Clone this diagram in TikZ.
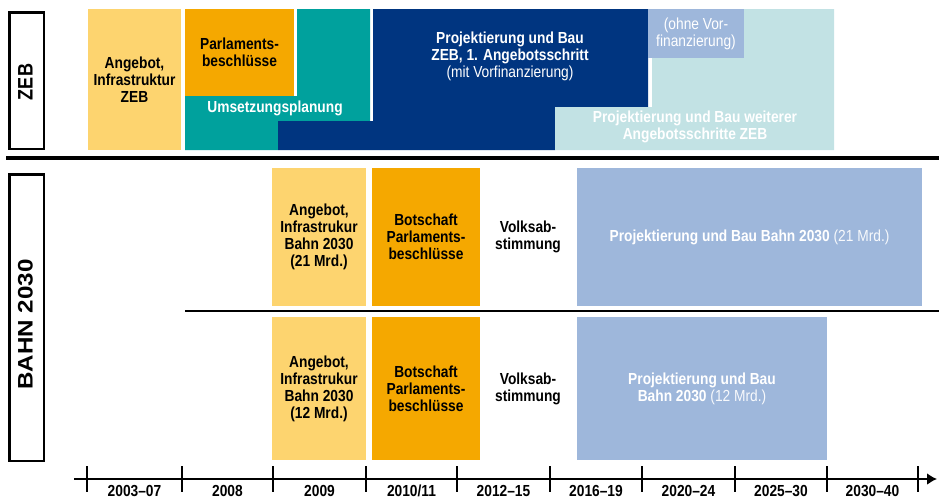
\documentclass[tikz,border=0pt]{standalone}
\usepackage{fontspec}
\setmainfont{Liberation Sans}[FakeStretch=0.86]
\newfontfamily\widefont{Liberation Sans}[FakeStretch=1.15]
\usepackage{tikz}
\usetikzlibrary{positioning, calc, arrows.meta}

\definecolor{AngebotYellow}{RGB}{253,212,111}
\definecolor{ParlOrange}{RGB}{245,168,0}
\definecolor{PlanTeal}{RGB}{0,161,157}
\definecolor{BauBlue}{RGB}{0,53,128}
\definecolor{ProjBlue}{RGB}{158,183,219}
\definecolor{LaterCyan}{RGB}{194,226,228}

\newcommand{\boxfont}{\fontsize{16}{17}\selectfont}
\newcommand{\rowfont}{\fontsize{21}{21}\selectfont}

\begin{document}
\begin{tikzpicture}[
    x=1pt, y=-1pt,
    >={Latex[length=10pt, width=12pt]},
    blk/.style={anchor=north west, inner sep=0pt, outer sep=0pt, align=center, font=\boxfont\bfseries},
    txt/.style={inner sep=0pt, align=center, font=\boxfont\bfseries},
    rowbox/.style={draw, line width=2.5pt, fill=white, inner sep=0pt, anchor=north west},
    rowlabel/.style={rotate=90, inner sep=0pt, font=\rowfont\bfseries},
    year/.style={inner sep=0pt, font=\boxfont\bfseries},
    sepline/.style={line width=4.5pt},
    thinline/.style={line width=2.8pt},
    axis/.style={line width=2.5pt}]

    \useasboundingbox (0,0) rectangle (939,499);

    %%% row labels
    \node[rowbox, minimum width=34.5, minimum height=136.5] (zebframe) at (8.25,11.25) {};
    \node[rowlabel] (zeblabel) at (25.5,82) {ZEB};
    \node[rowbox, minimum width=34.5, minimum height=286.5] (bahnframe) at (8.25,173.25) {};
    \node[rowlabel, font=\rowfont\widefont\bfseries] (bahnlabel) at (25.5,324.5) {BAHN 2030};

    %%% separators
    \coordinate (sepleft) at (6,158);
    \coordinate (sepright) at (939,158);
    \draw[sepline] (sepleft) -- (sepright);
    \coordinate (midleft) at (185,311);
    \coordinate (midright) at (939,311);
    \draw[thinline] (midleft) -- (midright);

    %%% ZEB row
    \node[blk, fill=AngebotYellow, minimum width=93, minimum height=141] (zebangebot) at (88,9) {Angebot,\\Infrastruktur\\ZEB};
    \node[blk, fill=ParlOrange, minimum width=109, minimum height=87] (zebparl) at (185,9) {Parlaments-\\beschlüsse};
    \fill[PlanTeal] (297,9) -- (370,9) -- (370,121) -- (278,121) -- (278,150) -- (185,150) -- (185,96) -- (297,96) -- cycle;
    \node[txt, text=white] (umsetzung) at (275,108) {Umsetzungsplanung};
    \fill[BauBlue] (373,9) -- (648,9) -- (648,107) -- (555,107) -- (555,150) -- (278,150) -- (278,121) -- (373,121) -- cycle;
    \node[txt, text=white] (zebbau) at (510,56) {Projektierung und Bau\\ZEB, 1. Angebotsschritt\\{\mdseries (mit Vorfinanzierung)}};
    \fill[LaterCyan] (744,9) -- (834,9) -- (834,150) -- (555,150) -- (555,107) -- (652,107) -- (652,58) -- (744,58) -- cycle;
    \node[blk, fill=ProjBlue, text=white, minimum width=96, minimum height=49, font=\boxfont] (ohnevor) at (648,9) {(ohne Vor-\\finanzierung)};
    \node[txt, text=white] (weitere) at (695,126.5) {Projektierung und Bau weiterer\\Angebotsschritte ZEB};

    %%% Bahn 2030, 21 Mrd.
    \node[blk, fill=AngebotYellow, minimum width=94, minimum height=138] (angebot21) at (272,168) {Angebot,\\Infrastrukur\\Bahn 2030\\(21 Mrd.)};
    \node[blk, fill=ParlOrange, minimum width=108, minimum height=138] (botschaft21) at (372,168) {Botschaft\\Parlaments-\\beschlüsse};
    \node[txt] (volk21) at (528,237) {Volksab-\\stimmung};
    \node[blk, fill=ProjBlue, text=white, minimum width=345, minimum height=138] (bau21) at (577,168) {Projektierung und Bau Bahn 2030 {\mdseries\color{white!92!ProjBlue}(21 Mrd.)}};

    %%% Bahn 2030, 12 Mrd.
    \node[blk, fill=AngebotYellow, minimum width=94, minimum height=143] (angebot12) at (272,317) {Angebot,\\Infrastrukur\\Bahn 2030\\(12 Mrd.)};
    \node[blk, fill=ParlOrange, minimum width=108, minimum height=143] (botschaft12) at (372,317) {Botschaft\\Parlaments-\\beschlüsse};
    \node[txt] (volk12) at (528,389) {Volksab-\\stimmung};
    \node[blk, fill=ProjBlue, text=white, minimum width=250, minimum height=143] (bau12) at (577,317) {Projektierung und Bau\\Bahn 2030 {\mdseries\color{white!92!ProjBlue}(12 Mrd.)}};

    %%% time axis
    \coordinate (axisstart) at (74,479);
    \coordinate (axisend) at (937,479);
    \draw[axis, ->] (axisstart) -- (axisend);
    \foreach \t in {87,182,273,366,457,550,642,735,827,918}
        \draw[axis] (\t,466) -- (\t,492);
    \foreach \a/\b/\lab [count=\i] in {87/182/2003--07, 182/273/2008, 273/366/2009, 366/457/{2010/11}, 457/550/2012--15, 550/642/2016--19, 642/735/2020--24, 735/827/2025--30, 827/918/2030--40}
        \node[year] (year\i) at ({(\a+\b)/2},491) {\lab};

\end{tikzpicture}
\end{document}
